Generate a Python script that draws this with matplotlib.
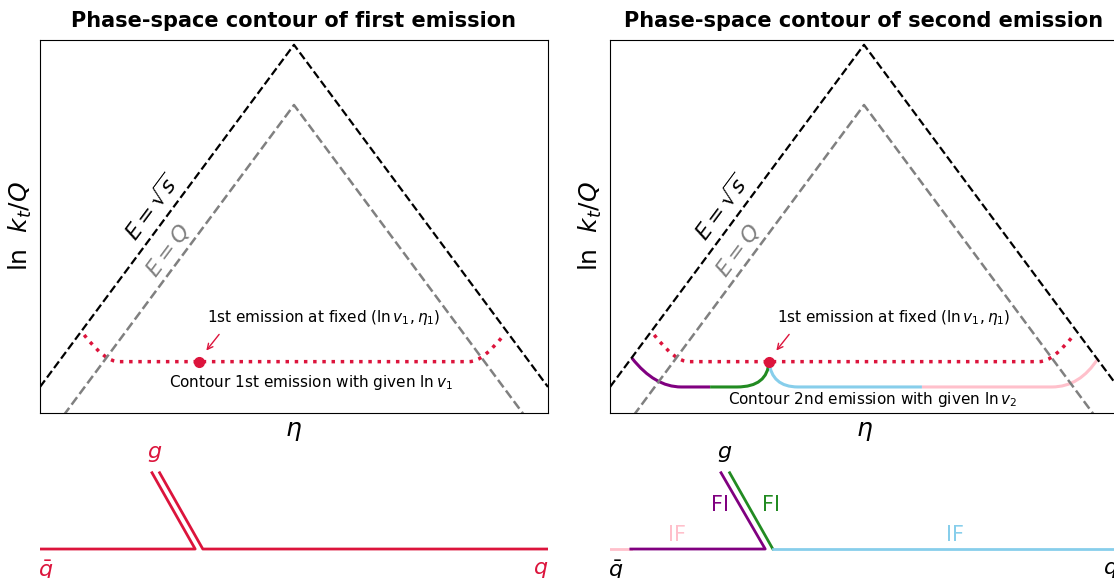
import matplotlib
matplotlib.use('Agg')
import matplotlib.pyplot as plt
from matplotlib.path import Path
from matplotlib.patches import PathPatch

# phase-space boundaries, ln kt/Q versus eta
edge_eta = [-5.0, 0.0, 5.0]
edge_sqrt_s = [-4.12, 0.88, -4.12]
edge_Q = [-5.0, 0.0, -5.0]

# first emission
eta1 = -1.87
lnkt1 = -3.75

# contour of first emission at fixed ln v1 (quadratic bezier control points)
c1_eta = [-4.13, -3.72, -3.45, 3.45, 3.72, 4.13]
c1_lnkt = [-3.36, -3.75, -3.75, -3.75, -3.75, -3.36]
c1_codes = [Path.MOVETO, Path.CURVE3, Path.CURVE3, Path.LINETO, Path.CURVE3, Path.CURVE3]

# contour of second emission at fixed ln v2, split by dipole
c2_segments = [
    ('purple', [-4.567, -4.12, -3.6, -3.03], [-3.70, -4.12, -4.12, -4.12], 'bend_first'),
    ('forestgreen', [-3.03, -2.5, -1.9, eta1], [-4.12, -4.12, -4.12, lnkt1], 'bend_last'),
    ('skyblue', [eta1, -1.82, -1.3, 1.14], [lnkt1, -4.12, -4.12, -4.12], 'bend_first'),
    ('pink', [1.14, 3.7, 4.25, 4.61], [-4.12, -4.12, -4.12, -3.70], 'bend_last'),
]
codes_bend = {
    'bend_first': [Path.MOVETO, Path.CURVE3, Path.CURVE3, Path.LINETO],
    'bend_last': [Path.MOVETO, Path.LINETO, Path.CURVE3, Path.CURVE3],
}

# event pictures below: gluon emitted at eta1, drawn up to eta_g
eta_g = -2.72
strand = 0.075
qbar_split = -4.59


def phase_space(ax, title):
    ax.plot(edge_eta, edge_sqrt_s, '--', color='black', lw=1.6)
    ax.plot(edge_eta, edge_Q, '--', color='gray', lw=1.8)
    ax.set_xlim(-5, 5)
    ax.set_ylim(-4.5, 0.95)
    ax.set_xticks([])
    ax.set_yticks([])
    ax.set_xlabel(r'$\eta$', fontsize=18)
    ax.set_ylabel(r'ln $\ k_t/Q$', fontsize=18)
    ax.set_title(title, fontsize=15, fontweight='bold', pad=9)
    ax.text(-2.8, -1.49, r'$E=\sqrt{s}$', fontsize=16, rotation=53.4,
            rotation_mode='anchor', ha='center', va='center', color='black')
    ax.text(-2.48, -2.12, r'$E=Q$', fontsize=16, rotation=53.4,
            rotation_mode='anchor', ha='center', va='center', color='gray')
    contour = Path(list(zip(c1_eta, c1_lnkt)), c1_codes)
    ax.add_patch(PathPatch(contour, fill=False, edgecolor='crimson', lw=2.5, linestyle=':'))
    ax.text(0.59, -3.10, r'1st emission at fixed $(\ln v_1, \eta_1)$', fontsize=11,
            ha='center', va='center')
    ax.annotate('', xy=(-1.76, -3.62), xytext=(-1.44, -3.32),
                arrowprops=dict(arrowstyle='->', color='crimson', lw=1))


def event_axes(ax):
    ax.set_xlim(-5, 5)
    ax.set_ylim(-0.38, 1.43)
    ax.axis('off')


fig = plt.figure(figsize=(11.14, 5.78), dpi=100)
ax1 = fig.add_axes([0.0359, 0.2855, 0.456, 0.6453])
ax2 = fig.add_axes([0.5476, 0.2855, 0.456, 0.6453])
ax3 = fig.add_axes([0.0359, 0.0, 0.456, 0.2388])
ax4 = fig.add_axes([0.5476, 0.0, 0.456, 0.2388])

# left: first emission
phase_space(ax1, 'Phase-space contour of first emission')
ax1.plot(eta1, lnkt1, 'o', color='crimson', ms=7, zorder=5)
ax1.text(0.335, -4.05, r'Contour 1st emission with given $\ln v_1$', fontsize=11,
         ha='center', va='center')

# right: second emission
phase_space(ax2, 'Phase-space contour of second emission')
for col, xs, ys, kind in c2_segments:
    ax2.add_patch(PathPatch(Path(list(zip(xs, ys)), codes_bend[kind]), fill=False,
                            edgecolor=col, lw=2.2))
ax2.plot(eta1, lnkt1, 'o', color='crimson', ms=7, zorder=5)
ax2.text(0.16, -4.31, r'Contour 2nd emission with given $\ln v_2$', fontsize=11,
         ha='center', va='center')

# left event: q qbar g
event_axes(ax3)
red = 'crimson'
ax3.plot([-5, eta1 - strand, eta_g - strand], [0, 0, 1], color=red, lw=2)
ax3.plot([eta_g + strand, eta1 + strand, 5], [1, 0, 0], color=red, lw=2)
ax3.text(eta_g - 0.02, 1.24, r'$g$', fontsize=16, color=red, ha='center', va='center')
ax3.text(-4.88, -0.28, r'$\bar{q}$', fontsize=16, color=red, ha='center', va='center')
ax3.text(4.86, -0.28, r'$q$', fontsize=16, color=red, ha='center', va='center')

# right event: dipoles coloured like the contour pieces
event_axes(ax4)
ax4.plot([-5, qbar_split], [0, 0], color='pink', lw=2)
ax4.plot([qbar_split, eta1 - strand, eta_g - strand - 0.02], [0, 0, 1], color='purple', lw=2)
ax4.plot([eta_g + strand, eta1 + strand], [1, 0], color='forestgreen', lw=2)
ax4.plot([eta1 + strand, 5], [0, 0], color='skyblue', lw=2)
ax4.text(eta_g - 0.02, 1.24, r'$g$', fontsize=16, color='black', ha='center', va='center')
ax4.text(-2.83, 0.58, 'FI', fontsize=15, color='purple', ha='center', va='center')
ax4.text(-1.83, 0.58, 'FI', fontsize=15, color='forestgreen', ha='center', va='center')
ax4.text(-3.68, 0.18, 'IF', fontsize=15, color='pink', ha='center', va='center')
ax4.text(1.80, 0.18, 'IF', fontsize=15, color='skyblue', ha='center', va='center')
ax4.text(-4.88, -0.28, r'$\bar{q}$', fontsize=16, color='black', ha='center', va='center')
ax4.text(4.86, -0.28, r'$q$', fontsize=16, color='black', ha='center', va='center')

fig.savefig('out.png', dpi=100)
